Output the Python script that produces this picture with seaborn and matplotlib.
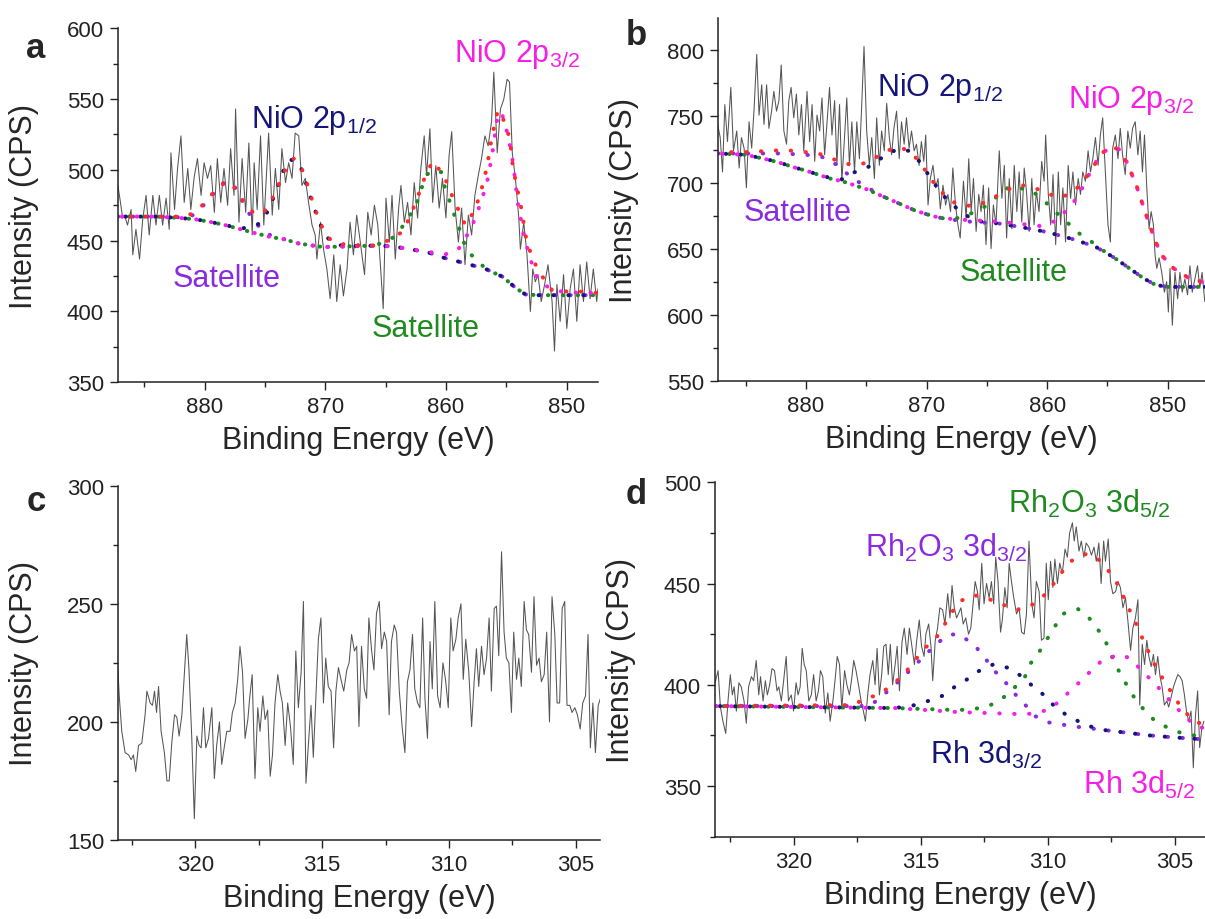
import matplotlib
matplotlib.use("Agg")
import seaborn as sns
import matplotlib.pyplot as plt
from matplotlib.ticker import MultipleLocator

# ---------------- panel a : Ni 2p (binding energy eV, counts) ----------------
a_trace = [
    (887.2, 489), (887.0, 478), (886.8, 466), (886.65, 468), (886.4, 461), (886.1, 472),
    (885.96, 440), (885.7, 458), (885.4, 437), (885.14, 465), (884.86, 482), (884.6, 454),
    (884.3, 482), (884.04, 461), (883.76, 482), (883.49, 461), (883.2, 480), (882.94, 458),
    (882.8, 512), (882.5, 472), (882.25, 501), (881.97, 524), (881.7, 477), (881.4, 501),
    (881.15, 472), (880.87, 495), (880.6, 508), (880.3, 482), (880.05, 505), (879.77, 494),
    (879.5, 503), (879.2, 470), (878.95, 508), (878.67, 477), (878.4, 501), (878.1, 475),
    (877.85, 515), (877.57, 482), (877.44, 543), (877.16, 463), (876.9, 508), (876.6, 470),
    (876.34, 519), (876.06, 454), (875.9, 505), (875.65, 472), (875.37, 524), (875.1, 461),
    (874.7, 526), (874.4, 468), (874.14, 501), (873.86, 472), (873.6, 515), (873.3, 491),
    (873.04, 505), (872.76, 494), (872.5, 526), (872.2, 524), (871.94, 489), (871.66, 494),
    (871.39, 477), (871.1, 461), (870.84, 454), (870.7, 437), (870.4, 463), (870.15, 444),
    (869.87, 430), (869.6, 409), (869.3, 440), (869.05, 407), (868.77, 433), (868.5, 411),
    (868.2, 430), (867.95, 463), (867.67, 440), (867.4, 468), (867.1, 449), (866.75, 426),
    (866.48, 470), (866.2, 454), (865.93, 475), (865.65, 461), (865.38, 426), (865.2, 402),
    (864.97, 480), (864.69, 449), (864.47, 482), (864.2, 437), (863.92, 473), (863.73, 489),
    (863.45, 463), (863.18, 477), (862.9, 454), (862.63, 491), (862.35, 466), (862.08, 501),
    (861.8, 524), (861.61, 496), (861.33, 529), (861.1, 477), (860.84, 503), (860.56, 473),
    (860.29, 494), (860.0, 466), (859.74, 510), (859.52, 527), (859.24, 473), (858.97, 449),
    (858.7, 473), (858.42, 433), (858.14, 468), (857.87, 454), (857.6, 482), (857.32, 496),
    (857.05, 508), (856.77, 524), (856.5, 517), (856.22, 534), (856.03, 569), (855.75, 512),
    (855.48, 543), (855.2, 550), (854.93, 564), (854.73, 562), (854.5, 512), (854.24, 494),
    (853.96, 466), (853.83, 444), (853.55, 463), (853.28, 440), (853.0, 400), (852.8, 430),
    (852.59, 421), (852.37, 426), (852.1, 407), (851.82, 419), (851.54, 433), (851.2, 407),
    (851.0, 372), (850.8, 419), (850.53, 393), (850.25, 426), (849.98, 388), (849.7, 416),
    (849.43, 430), (849.15, 393), (848.88, 433), (848.6, 407), (848.33, 435), (848.05, 409),
    (847.78, 430), (847.5, 407), (847.4, 416),
]
a_purple = [
    (887.2, 467), (884, 467), (882, 466.5), (881, 468), (880.3, 473), (879.9, 477),
    (879.2, 484), (878.6, 490), (878.1, 492), (877.6, 489), (877.3, 485), (876.7, 475),
    (876.1, 466), (875.3, 458), (874.5, 453.5), (873.4, 451), (872.2, 448), (870.2, 445.5),
    (868, 446), (866, 446.5), (864.5, 446), (863.3, 444.5), (861.4, 441.5), (860.2, 438),
    (858.4, 434), (856.7, 430), (855.3, 424.5), (854.2, 416.5), (853.4, 412), (852.3, 411.5),
    (847.4, 411.5),
]
a_navy = [
    (887.2, 467), (884, 467), (882, 466), (880.7, 465), (879.4, 463), (878.3, 461),
    (877, 458.5), (876, 460), (875.5, 462), (875, 467), (874.5, 476), (874, 487),
    (873.5, 499), (873, 507), (872.5, 507), (872, 501), (871.5, 488), (871, 475),
    (870.5, 463), (870, 454), (869.5, 449), (869, 447), (868, 446), (866, 446.5),
    (864.5, 446), (863.3, 444.5), (861.4, 441.5), (860.2, 438), (858.4, 434), (856.7, 430),
    (855.3, 424.5), (854.2, 416.5), (853.4, 412), (852.3, 411.5), (847.4, 411.5),
]
a_green = [
    (887.2, 467), (884, 467), (882, 466), (880.7, 465), (879.4, 463), (878.3, 461),
    (877, 458), (875.9, 455.5), (874.5, 452.5), (873.4, 451), (872.2, 448), (870.2, 445.5),
    (868, 446), (866, 446.5), (864.7, 450), (863.9, 456), (863.2, 465.5), (862.6, 472.5),
    (862.2, 482), (861.7, 496), (861, 500), (860.4, 498.5), (860.1, 488), (859.7, 478),
    (859.3, 468), (858.9, 458.5), (858.5, 448.5), (857.9, 440), (857.0, 432.5), (856.2, 428),
    (855.3, 424.5), (854.2, 416.5), (853.4, 412), (852.3, 411.5), (847.4, 411.5),
]
a_magenta = [
    (887.2, 467), (884, 467), (882, 466), (880.7, 465), (879.4, 463), (878.3, 461),
    (877, 458), (875.9, 455.5), (874.5, 452.5), (873.4, 451), (872.2, 448), (870.2, 445.5),
    (868, 446), (866, 446.5), (864.5, 446), (863.3, 444.5), (861.4, 442), (860, 440.5),
    (859.05, 443), (858.4, 451.4), (857.8, 461), (857.1, 477), (856.6, 491), (856.2, 509),
    (855.75, 536), (855.4, 541), (855.1, 532), (854.8, 522), (854.4, 503), (854.05, 477),
    (853.55, 454), (853.1, 440), (852.6, 426), (851.8, 418.5), (851, 415), (850, 413.5),
    (847.4, 413),
]
a_red = [
    (887.2, 467), (884, 467), (882, 467), (881, 469), (880.3, 474), (879.5, 482),
    (878.2, 492), (877.5, 487), (876.8, 478), (876, 470), (875.4, 468.5), (875, 471),
    (874.5, 478), (874, 487), (873.5, 497), (873, 505), (872.6, 508), (872, 502),
    (871.5, 490), (871, 476), (870.5, 464), (870, 455), (869.5, 450), (869, 448),
    (868, 447), (866, 446.5), (864.5, 451), (863.5, 457), (862.5, 477), (861.7, 496),
    (861.1, 506), (860.2, 496.5), (859.5, 482), (858.4, 461), (857.8, 469), (857.2, 481),
    (856.6, 502), (856.2, 523), (855.7, 542), (855.3, 537), (854.7, 522), (854.45, 502),
    (854.1, 487), (853.8, 475), (853.55, 462), (853.3, 449), (852.7, 435), (852, 424.5),
    (851.2, 415), (849.8, 414), (848.2, 414), (847.4, 413),
]

# ---------------- panel b : Ni 2p, second sample ----------------
b_trace = [
    (887.34, 744), (887.12, 734), (886.93, 708), (886.74, 759), (886.52, 731), (886.24, 772),
    (886.02, 724), (885.75, 739), (885.55, 711), (885.36, 734), (885.14, 726), (884.95, 696),
    (884.73, 746), (884.51, 726), (884.31, 756), (884.09, 797), (883.9, 751), (883.68, 774),
    (883.49, 744), (883.27, 774), (883.08, 741), (882.86, 754), (882.67, 769), (882.45, 754),
    (882.25, 762), (882.06, 789), (881.84, 739), (881.62, 729), (881.43, 762), (881.24, 772),
    (881.02, 749), (880.8, 767), (880.6, 736), (880.38, 759), (880.19, 724), (879.92, 769),
    (879.7, 731), (879.5, 759), (879.28, 716), (879.09, 751), (878.87, 739), (878.68, 764),
    (878.46, 721), (878.27, 744), (878.05, 772), (877.85, 736), (877.63, 762), (877.44, 713),
    (877.22, 759), (877.03, 701), (876.81, 734), (876.62, 764), (876.4, 713), (876.2, 746),
    (875.98, 708), (875.79, 746), (875.57, 718), (875.38, 759), (875.19, 803), (874.97, 739),
    (874.75, 713), (874.55, 734), (874.33, 703), (874.14, 749), (873.92, 713), (873.73, 739),
    (873.51, 724), (873.31, 760), (873.09, 734), (872.9, 721), (872.71, 741), (872.49, 754),
    (872.27, 718), (872.08, 746), (871.86, 729), (871.67, 749), (871.45, 726), (871.25, 739),
    (871.03, 724), (870.84, 729), (870.62, 713), (870.43, 731), (870.23, 716), (870.07, 736),
    (869.88, 683), (869.69, 703), (869.47, 713), (869.25, 696), (869.05, 703), (868.86, 680),
    (868.64, 698), (868.42, 683), (868.23, 691), (868.01, 678), (867.82, 711), (867.6, 683),
    (867.4, 668), (867.21, 658), (866.94, 701), (866.72, 673), (866.5, 718), (866.3, 678),
    (866.11, 703), (865.89, 663), (865.67, 691), (865.48, 678), (865.29, 698), (865.07, 653),
    (864.85, 696), (864.65, 650), (864.46, 683), (864.24, 668), (863.97, 724), (863.75, 688),
    (863.55, 713), (863.36, 658), (863.14, 703), (862.92, 665), (862.73, 713), (862.51, 678),
    (862.32, 708), (862.1, 670), (861.9, 711), (861.71, 693), (861.49, 663), (861.27, 703),
    (861.08, 668), (860.89, 693), (860.67, 678), (860.45, 716), (860.25, 701), (860.12, 736),
    (859.9, 691), (859.7, 668), (859.51, 706), (859.29, 653), (859.07, 708), (858.88, 668),
    (858.69, 696), (858.47, 655), (858.25, 713), (858.05, 688), (857.86, 708), (857.64, 683),
    (857.42, 703), (857.23, 691), (857.04, 708), (856.82, 701), (856.6, 724), (856.4, 708),
    (856.21, 718), (855.99, 734), (855.77, 713), (855.58, 736), (855.39, 749), (855.17, 708),
    (854.95, 668), (854.75, 655), (854.56, 726), (854.34, 736), (854.12, 718), (853.93, 741),
    (853.74, 721), (853.52, 706), (853.3, 739), (853.1, 726), (852.91, 741), (852.69, 746),
    (852.47, 721), (852.28, 739), (852.09, 708), (851.92, 736), (851.73, 696), (851.54, 665),
    (851.37, 678), (851.18, 668), (851.04, 645), (850.9, 635), (850.71, 643), (850.49, 632),
    (850.27, 617), (850.08, 625), (849.94, 602), (849.8, 635), (849.61, 592), (849.39, 632),
    (849.17, 612), (848.98, 632), (848.79, 617), (848.57, 627), (848.35, 615), (848.15, 637),
    (847.96, 617), (847.74, 627), (847.52, 637), (847.33, 620), (847.14, 632), (846.92, 610),
]
b_purple = [
    (887.3, 722), (884, 722), (882, 722), (880, 721), (879, 720), (878.3, 718.5),
    (877.4, 713), (876.5, 706), (875.8, 701), (875.3, 699), (874.5, 694), (874, 691),
    (873, 687), (872, 683), (871, 679), (870, 676), (869, 673.5), (868, 672), (866, 670),
    (864, 669), (862, 666), (860, 662.5), (858, 657.5), (856, 651.5), (854.5, 643.5),
    (853, 634), (852, 627.5), (851, 622.5), (850, 621), (846.9, 621),
]
b_navy = [
    (887.3, 722), (885, 721), (884, 719), (883, 717), (882, 714.5), (881, 711.5),
    (880, 709), (879, 706), (878, 703.5), (877, 702.5), (876.3, 707), (875.5, 709),
    (874.8, 712), (874, 717), (873, 723), (872.2, 725.5), (871.5, 724), (871, 720),
    (870.5, 715), (870, 708), (869.5, 701), (869, 695), (868.4, 688), (867.8, 683),
    (867.2, 678), (866.5, 674), (866, 671), (864, 669), (862, 666), (860, 662.5),
    (858, 657.5), (856, 651.5), (854.5, 643.5), (853, 634), (852, 627.5), (851, 622.5),
    (850, 621), (846.9, 621),
]
b_green = [
    (887.3, 722), (885, 721), (884, 719), (883, 717), (882, 714.5), (881, 711.5),
    (880, 709), (879, 706), (878, 703), (877, 701), (876, 698), (875, 695), (874, 691),
    (873, 687), (872, 683), (871, 679), (870, 676), (869, 673.5), (868, 672), (867, 674),
    (866.5, 676), (865.6, 679), (864.6, 685.5), (863.5, 695.5), (862.5, 696), (861.4, 694.5),
    (860.3, 687), (859.6, 680), (858.5, 671.5), (857.6, 663), (856.5, 656.5), (855.6, 650),
    (854.5, 643.5), (853, 634), (852, 627.5), (851, 622.5), (850, 621), (846.9, 621),
]
b_magenta = [
    (887.3, 722), (885, 721), (884, 719), (883, 717), (882, 714.5), (881, 711.5),
    (880, 709), (879, 706), (878, 703), (877, 701), (876, 698), (875, 695), (874, 691),
    (873, 687), (872, 683), (871, 679), (870, 676), (869, 673.5), (867.5, 672), (864, 670.5),
    (862, 668.5), (860.5, 667), (859.3, 671), (858.5, 678), (857.5, 688.5), (856.3, 710),
    (855.6, 721), (854.7, 727), (854, 725), (853.6, 720), (853.1, 709), (852.6, 698),
    (851.8, 676), (851, 655), (850.4, 644), (849.5, 635), (848.3, 628), (847.2, 625),
    (846.9, 624),
]
b_red = [
    (887.3, 723), (885, 723), (883, 724), (882, 724.5), (881, 724), (880, 723), (879, 722),
    (878.3, 720), (877.3, 716), (876.5, 714), (876, 714), (875.2, 714.5), (874.5, 717),
    (873.9, 721), (873, 725), (872.4, 726.5), (871.7, 725), (871, 720), (870.5, 714),
    (870, 708), (869.5, 701), (869, 696), (868.4, 689), (868, 686), (867.3, 683.5),
    (866.5, 682.5), (865.8, 682.5), (864.7, 687), (863.6, 693), (862.5, 698), (861.4, 697.5),
    (860.2, 692.5), (859, 688.5), (857.9, 692), (857, 701), (856.3, 709.5), (855.6, 721),
    (854.8, 727), (854.4, 727), (853.7, 720), (853.1, 709), (852.6, 698), (851.8, 676),
    (851, 655), (850.4, 644), (849.5, 635), (848.3, 628), (847.2, 625), (846.9, 624),
]

# ---------------- panel c : Rh 3d region, no signal ----------------
c_trace = [
    (323.16, 238), (323.09, 230), (323.0, 211), (322.9, 196), (322.77, 187), (322.63, 186),
    (322.53, 184), (322.44, 186), (322.35, 179), (322.24, 190), (322.11, 191), (321.98, 203),
    (321.91, 213), (321.78, 208), (321.69, 207), (321.61, 213), (321.53, 204), (321.45, 215),
    (321.35, 196), (321.22, 187), (321.12, 175), (321.03, 175), (320.93, 191), (320.82, 203),
    (320.73, 202), (320.64, 194), (320.53, 203), (320.43, 221), (320.34, 237), (320.25, 222),
    (320.14, 193), (320.04, 159), (319.94, 194), (319.85, 190), (319.77, 189), (319.68, 206),
    (319.59, 189), (319.48, 193), (319.35, 206), (319.25, 176), (319.16, 190), (319.05, 200),
    (318.96, 182), (318.85, 190), (318.76, 196), (318.63, 196), (318.54, 204), (318.43, 208),
    (318.33, 218), (318.24, 232), (318.14, 221), (318.04, 193), (317.93, 201), (317.86, 210),
    (317.76, 220), (317.65, 176), (317.54, 206), (317.45, 196), (317.34, 211), (317.25, 201),
    (317.15, 205), (317.05, 177), (316.96, 186), (316.86, 208), (316.75, 220), (316.66, 213),
    (316.57, 208), (316.46, 190), (316.36, 208), (316.25, 198), (316.14, 182), (316.04, 230),
    (315.94, 206), (315.83, 221), (315.74, 251), (315.64, 174), (315.54, 191), (315.44, 207),
    (315.35, 185), (315.24, 213), (315.15, 235), (315.05, 244), (314.95, 208), (314.86, 227),
    (314.76, 215), (314.65, 213), (314.55, 189), (314.46, 213), (314.36, 223), (314.26, 218),
    (314.15, 213), (314.03, 222), (313.94, 225), (313.84, 237), (313.73, 230), (313.64, 232),
    (313.55, 198), (313.45, 232), (313.34, 214), (313.25, 210), (313.16, 244), (313.05, 230),
    (312.96, 222), (312.86, 246), (312.75, 251), (312.66, 231), (312.55, 238), (312.46, 234),
    (312.36, 203), (312.27, 234), (312.16, 241), (312.07, 238), (311.96, 213), (311.85, 198),
    (311.74, 187), (311.64, 217), (311.54, 222), (311.44, 237), (311.35, 214), (311.24, 208),
    (311.15, 206), (311.04, 244), (310.95, 210), (310.85, 193), (310.75, 234), (310.66, 214),
    (310.56, 251), (310.45, 211), (310.35, 206), (310.24, 225), (310.14, 218), (310.03, 206),
    (309.93, 244), (309.84, 230), (309.73, 235), (309.64, 244), (309.53, 250), (309.44, 218),
    (309.34, 235), (309.22, 221), (309.11, 198), (309.01, 217), (308.92, 231), (308.83, 215),
    (308.72, 232), (308.62, 220), (308.52, 227), (308.42, 244), (308.33, 213), (308.22, 248),
    (308.13, 249), (308.04, 228), (307.93, 272), (307.83, 238), (307.74, 227), (307.64, 225),
    (307.54, 204), (307.45, 238), (307.34, 218), (307.25, 227), (307.15, 215), (307.04, 251),
    (306.95, 239), (306.86, 237), (306.75, 221), (306.65, 253), (306.55, 224), (306.45, 227),
    (306.36, 217), (306.25, 220), (306.15, 238), (306.04, 200), (305.94, 253), (305.83, 237),
    (305.74, 208), (305.64, 208), (305.54, 248), (305.44, 251), (305.35, 207), (305.24, 207),
    (305.15, 204), (305.04, 206), (304.94, 203), (304.83, 197), (304.73, 208), (304.62, 211),
    (304.52, 237), (304.43, 189), (304.33, 208), (304.23, 187), (304.12, 207), (304.03, 210),
]

# ---------------- panel d : Rh 3d, fitted ----------------
d_trace = [
    (323.17, 397), (322.97, 407), (322.88, 389), (322.78, 382), (322.67, 376), (322.58, 392),
    (322.49, 405), (322.41, 395), (322.34, 399), (322.25, 387), (322.15, 401), (322.06, 399),
    (321.95, 392), (321.86, 381), (321.77, 399), (321.66, 404), (321.57, 402), (321.47, 412),
    (321.37, 395), (321.3, 404), (321.2, 392), (321.11, 402), (321.03, 395), (320.94, 400),
    (320.85, 408), (320.75, 407), (320.65, 397), (320.58, 399), (320.48, 392), (320.39, 402),
    (320.29, 414), (320.2, 392), (320.09, 395), (320.0, 387), (319.9, 401), (319.82, 395),
    (319.74, 399), (319.66, 418), (319.58, 410), (319.5, 407), (319.4, 392), (319.3, 395),
    (319.21, 405), (319.11, 392), (319.02, 397), (318.94, 407), (318.85, 404), (318.75, 386),
    (318.65, 396), (318.56, 382), (318.45, 392), (318.36, 403), (318.28, 414), (318.19, 410),
    (318.1, 388), (317.99, 407), (317.9, 400), (317.8, 395), (317.71, 403), (317.63, 412),
    (317.54, 407), (317.43, 399), (317.34, 392), (317.25, 387), (317.17, 382), (317.08, 395),
    (316.99, 405), (316.88, 412), (316.79, 400), (316.71, 418), (316.62, 395), (316.53, 405),
    (316.45, 419), (316.36, 420), (316.27, 405), (316.19, 420), (316.1, 400), (316.0, 410),
    (315.92, 419), (315.83, 397), (315.73, 421), (315.64, 428), (315.53, 415), (315.44, 428),
    (315.34, 419), (315.24, 410), (315.15, 422), (315.05, 432), (314.96, 419), (314.86, 414),
    (314.79, 425), (314.68, 430), (314.59, 419), (314.52, 402), (314.42, 422), (314.33, 428),
    (314.24, 438), (314.13, 437), (314.04, 430), (313.93, 445), (313.84, 433), (313.76, 449),
    (313.67, 438), (313.58, 433), (313.51, 435), (313.41, 438), (313.32, 430), (313.22, 433),
    (313.11, 425), (313.02, 428), (312.93, 440), (312.85, 451), (312.76, 446), (312.69, 437),
    (312.59, 460), (312.5, 440), (312.4, 450), (312.3, 443), (312.21, 451), (312.12, 440),
    (312.04, 463), (311.95, 451), (311.85, 426), (311.78, 432), (311.68, 448), (311.59, 438),
    (311.51, 460), (311.42, 451), (311.33, 443), (311.22, 435), (311.12, 438), (311.02, 426),
    (310.92, 425), (310.83, 435), (310.73, 471), (310.62, 440), (310.53, 433), (310.44, 451),
    (310.33, 446), (310.24, 422), (310.14, 423), (310.05, 460), (309.97, 442), (309.88, 461),
    (309.79, 448), (309.71, 462), (309.61, 450), (309.52, 460), (309.42, 455), (309.31, 467),
    (309.22, 463), (309.13, 475), (309.02, 480), (308.95, 471), (308.87, 478), (308.76, 466),
    (308.67, 471), (308.57, 463), (308.48, 470), (308.37, 468), (308.27, 464), (308.17, 468),
    (308.08, 461), (307.98, 470), (307.89, 450), (307.79, 471), (307.72, 461), (307.61, 472),
    (307.52, 451), (307.43, 445), (307.32, 446), (307.23, 451), (307.13, 448), (307.03, 438),
    (306.93, 443), (306.84, 432), (306.73, 417), (306.64, 428), (306.54, 433), (306.44, 442),
    (306.37, 390), (306.27, 420), (306.18, 410), (306.09, 422), (306.01, 414), (305.92, 409),
    (305.83, 415), (305.75, 405), (305.66, 414), (305.57, 404), (305.49, 399), (305.4, 390),
    (305.3, 392), (305.23, 389), (305.13, 394), (305.04, 399), (304.96, 402), (304.87, 405),
    (304.78, 404), (304.7, 402), (304.61, 395), (304.52, 386), (304.44, 382), (304.35, 387),
    (304.26, 359), (304.18, 384), (304.09, 397), (304.01, 369), (303.92, 379), (303.84, 382),
]
d_purple = [
    (323.2, 389.5), (317, 389.5), (316.55, 394), (316.1, 399), (315.7, 403.6), (315.24, 409.4),
    (314.8, 414.8), (314.4, 420), (313.9, 424.7), (313.5, 425), (313.3, 423.4), (312.85, 419.2),
    (312.45, 413), (312.1, 407), (311.7, 402), (311.4, 397), (310.9, 390.4), (310.5, 384.6),
    (310, 381.5), (309, 379.5), (308, 378), (307, 376.5), (306, 375), (305, 374), (303.8, 373),
]
d_navy = [
    (323.2, 389.5), (316, 388.5), (315.2, 390), (314.7, 392), (314.15, 394.5), (313.65, 399),
    (313.2, 402.4), (312.6, 407.7), (312.1, 410.2), (311.5, 408.2), (311, 404), (310.6, 399.5),
    (310.1, 394.5), (309.7, 389), (309.2, 384.6), (308.6, 380.8), (308, 378), (307, 376.5),
    (306, 375), (305, 374), (303.8, 373),
]
d_green = [
    (323.2, 389.5), (316, 388.5), (313.5, 387.5), (312.9, 388), (312.3, 389.6), (311.8, 393),
    (311.3, 398.6), (310.9, 403.6), (310.7, 410), (310.3, 416.8), (309.7, 429), (309.4, 435),
    (308.8, 437.4), (308.4, 433.6), (308, 427), (307.7, 421), (307.45, 413.5), (307.2, 407),
    (306.9, 400.3), (306.6, 394), (306.25, 388.4), (305.8, 382.5), (305.3, 379), (304.7, 376),
    (304.1, 374.7), (303.8, 374),
]
d_magenta = [
    (323.2, 389.5), (316, 388.5), (313.5, 386.5), (311, 385.5), (310.5, 385.8), (309.9, 388),
    (309.5, 392.4), (309.1, 397), (308.6, 403), (308.2, 408), (307.8, 412.6), (307.1, 415),
    (306.7, 412.6), (306.3, 407), (305.8, 401), (305.4, 395.3), (305, 389.6), (304.6, 384.6),
    (304.2, 379.7), (303.8, 378.5),
]
d_red = [
    (323.2, 389.5), (317.7, 390), (317.1, 393.4), (316.6, 395.3), (316.1, 400.3), (315.7, 404.4),
    (315.24, 411.8), (314.8, 418.4), (314.3, 424.5), (313.9, 433), (313.5, 441), (312.9, 444.3),
    (312.35, 442.5), (311.75, 439.5), (311.2, 437), (310.66, 439), (310.18, 443.5), (309.8, 449.2),
    (309.44, 455.5), (309.09, 461), (308.48, 464.6), (308, 462), (307.6, 456.3), (307.25, 449.8),
    (307, 443.2), (306.73, 435.8), (306.47, 429), (306.25, 422.5), (306.01, 416), (305.78, 410),
    (305.49, 403.6), (305.16, 397), (304.86, 391.2), (304.57, 386.3), (304.2, 382), (303.8, 380),
]

GRAY = "#555555"
NAVY = "#16167a"
PURPLE = "#8a2be2"
GREEN = "#1f8a1f"
MAGENTA = "#f51fe6"
RED = "#ff2a2a"

sns.set_theme(style="ticks")
plt.rcParams["font.family"] = ["Liberation Sans", "DejaVu Sans"]
plt.rcParams["mathtext.fontset"] = "custom"
plt.rcParams["mathtext.rm"] = "Liberation Sans"
plt.rcParams["mathtext.it"] = "Liberation Sans:italic"
plt.rcParams["mathtext.bf"] = "Liberation Sans:bold"


def draw_trace(ax, pts):
    be, cps = zip(*pts)
    sns.lineplot(x=list(be), y=list(cps), ax=ax, sort=False, estimator=None,
                 color=GRAY, lw=0.75)


def draw_fit(ax, pts, color, offset):
    be, cps = zip(*pts)
    sns.lineplot(x=list(be), y=list(cps), ax=ax, sort=False, estimator=None,
                 color=color, lw=2.9, linestyle=(offset, (0.1, 3.6)),
                 dash_capstyle="round")


def style_axes(ax, xlim, ylim, xstep, ystep):
    ax.set_xlim(*xlim)
    ax.set_ylim(*ylim)
    ax.xaxis.set_major_locator(MultipleLocator(xstep))
    ax.xaxis.set_minor_locator(MultipleLocator(xstep / 2))
    ax.yaxis.set_major_locator(MultipleLocator(ystep))
    ax.yaxis.set_minor_locator(MultipleLocator(ystep / 2))
    sns.despine(ax=ax)
    for s in ("left", "bottom"):
        ax.spines[s].set_color("#222222")
        ax.spines[s].set_linewidth(1.1)
    ax.tick_params(which="major", direction="out", length=6, width=1.0,
                   colors="#222222", labelsize=16, pad=4)
    ax.tick_params(which="minor", direction="out", length=3.5, width=1.0,
                   colors="#222222")
    ax.set_xlabel("Binding Energy (eV)", fontsize=22, labelpad=6)
    ax.set_ylabel("Intensity (CPS)", fontsize=22, labelpad=20)


fig = plt.figure(figsize=(12.05, 9.2), dpi=100)
ax_a = fig.add_axes([0.0978, 0.5834, 0.3984, 0.3848])
ax_b = fig.add_axes([0.5959, 0.5851, 0.4041, 0.3942])
ax_c = fig.add_axes([0.0979, 0.0859, 0.4000, 0.3851])
ax_d = fig.add_axes([0.5932, 0.0895, 0.4068, 0.3852])

# panel a
draw_trace(ax_a, a_trace)
draw_fit(ax_a, a_purple, PURPLE, 0)
draw_fit(ax_a, a_green, GREEN, 0.9)
draw_fit(ax_a, a_navy, NAVY, 1.8)
draw_fit(ax_a, a_magenta, MAGENTA, 2.7)
draw_fit(ax_a, a_red, RED, 0.45)
style_axes(ax_a, (887.2, 847.4), (350, 600), 10, 50)
ax_a.text(876.2, 530.3, "NiO 2p$_{1/2}$", color=NAVY, fontsize=22)
ax_a.text(859.3, 577, "NiO 2p$_{3/2}$", color=MAGENTA, fontsize=22)
ax_a.text(882.7, 417.8, "Satellite", color=PURPLE, fontsize=22)
ax_a.text(866.2, 382.5, "Satellite", color=GREEN, fontsize=22)

# panel b
draw_trace(ax_b, b_trace)
draw_fit(ax_b, b_purple, PURPLE, 0)
draw_fit(ax_b, b_green, GREEN, 0.9)
draw_fit(ax_b, b_navy, NAVY, 1.8)
draw_fit(ax_b, b_magenta, MAGENTA, 2.7)
draw_fit(ax_b, b_red, RED, 0.45)
style_axes(ax_b, (887.3, 846.9), (550, 824.5), 10, 50)
ax_b.text(874.1, 766.6, "NiO 2p$_{1/2}$", color=NAVY, fontsize=22)
ax_b.text(858.3, 757, "NiO 2p$_{3/2}$", color=MAGENTA, fontsize=22)
ax_b.text(885.15, 671.6, "Satellite", color=PURPLE, fontsize=22)
ax_b.text(867.3, 626.5, "Satellite", color=GREEN, fontsize=22)

# panel c
draw_trace(ax_c, c_trace)
style_axes(ax_c, (323.05, 304.05), (150, 300), 5, 50)

# panel d
draw_trace(ax_d, d_trace)
draw_fit(ax_d, d_purple, PURPLE, 0)
draw_fit(ax_d, d_green, GREEN, 0.9)
draw_fit(ax_d, d_navy, NAVY, 1.8)
draw_fit(ax_d, d_magenta, MAGENTA, 2.7)
draw_fit(ax_d, d_red, RED, 0.45)
style_axes(ax_d, (323.1, 303.8), (325, 500), 5, 50)
ax_d.text(311.54, 485.2, "Rh$_2$O$_3$ 3d$_{5/2}$", color=GREEN, fontsize=22)
ax_d.text(317.19, 463.7, "Rh$_2$O$_3$ 3d$_{3/2}$", color=PURPLE, fontsize=22)
ax_d.text(314.63, 361.6, "Rh 3d$_{3/2}$", color=NAVY, fontsize=22)
ax_d.text(308.62, 346.7, "Rh 3d$_{5/2}$", color=MAGENTA, fontsize=22)

for letter, x, y in [("a", 0.0299, 0.9478), ("b", 0.5278, 0.9609),
                     ("c", 0.0299, 0.4554), ("d", 0.5278, 0.4620)]:
    fig.text(x, y, letter, fontsize=25, fontweight="bold", ha="center", va="center")

fig.savefig("out.png", dpi=100)
